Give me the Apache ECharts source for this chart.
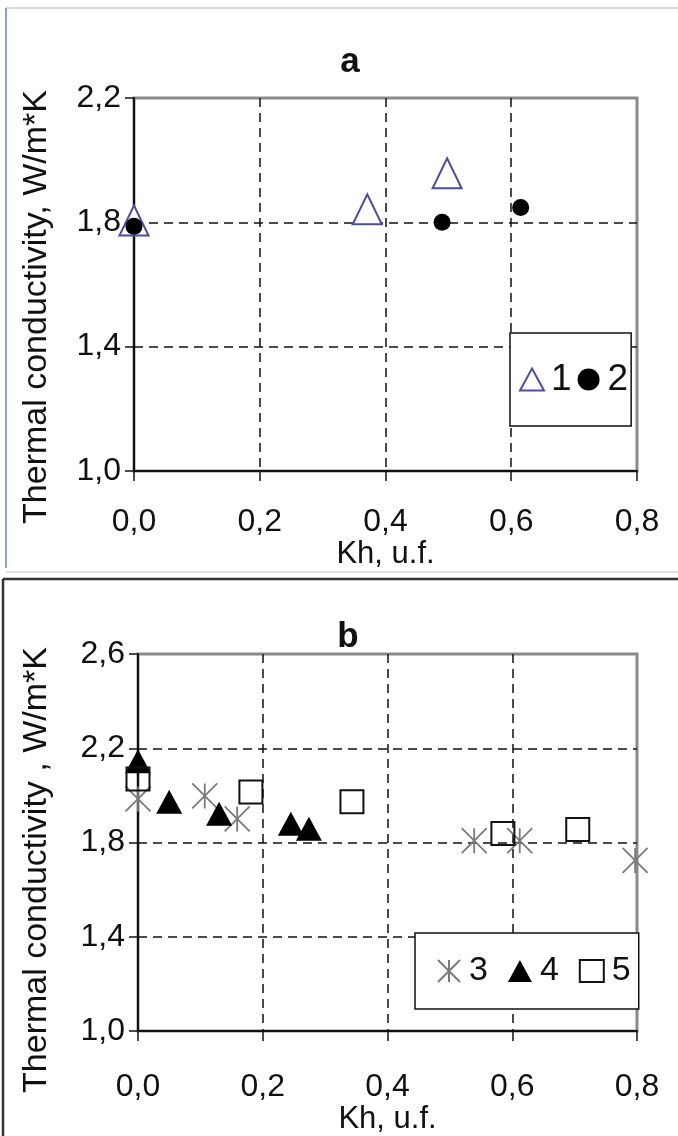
<!DOCTYPE html>
<html>
<head>
<meta charset="utf-8">
<script src="https://cdn.jsdelivr.net/npm/echarts@6/dist/echarts.min.js"></script>
<style>
  html, body { margin: 0; padding: 0; background: #fff; }
  #chart { width: 678px; height: 1136px; }
</style>
</head>
<body>
<div id="chart"></div>
<script>
// Panel a: thermal conductivity vs Kh
const series1X = [0.0, 0.371, 0.498];
const series1Y = [1.806, 1.842, 1.958];
const series2X = [0.0, 0.49, 0.615];
const series2Y = [1.787, 1.80, 1.848];

// Panel b
const series3X = [0.0, 0.107, 0.159, 0.539, 0.612, 0.797];
const series3Y = [1.985, 1.998, 1.90, 1.808, 1.808, 1.724];
const series4X = [0.0, 0.05, 0.13, 0.245, 0.274];
const series4Y = [2.145, 1.973, 1.922, 1.88, 1.859];
const series5X = [0.0, 0.181, 0.343, 0.585, 0.705];
const series5Y = [2.07, 2.015, 1.973, 1.838, 1.855];

const xTicks = [0.0, 0.2, 0.4, 0.6, 0.8];
const yTicksA = [1.0, 1.4, 1.8, 2.2];
const yTicksB = [1.0, 1.4, 1.8, 2.2, 2.6];

const panelTitles = ['a', 'b'];
const xTitle = 'Kh, u.f.';
const yTitles = ['Thermal conductivity, W/m*K', 'Thermal conductivity , W/m*K'];

const FONT = '"Liberation Sans", Arial, sans-serif';
const pairs = (xs, ys) => xs.map((x, i) => [x, ys[i]]);
const fmt = v => v.toFixed(1).replace('.', ',');
const asterisk = 'path://M10,0L10,20M0,0L20,20M0,20L20,0';

function xAxisFor(gridIndex, labelMargin, nameGap) {
  return {
    type: 'value', gridIndex,
    min: xTicks[0], max: xTicks[xTicks.length - 1], interval: 0.2,
    name: xTitle, nameLocation: 'middle', nameGap,
    nameTextStyle: { fontFamily: FONT, fontSize: 31, color: '#111' },
    axisLine: { show: true, onZero: false, lineStyle: { color: '#111', width: 2 } },
    axisTick: { show: true, inside: false, length: 10, lineStyle: { color: '#111', width: 1.5 } },
    axisLabel: { formatter: fmt, fontFamily: FONT, fontSize: 32, color: '#111', margin: labelMargin },
    splitLine: { show: true, showMinLine: false, showMaxLine: false,
      lineStyle: { color: '#111', type: [9, 6], width: 1.5 } }
  };
}

function yAxisFor(gridIndex, ticks) {
  return {
    type: 'value', gridIndex,
    min: ticks[0], max: ticks[ticks.length - 1], interval: 0.4,
    axisLine: { show: true, onZero: false, lineStyle: { color: '#111', width: 2 } },
    axisTick: { show: true, inside: false, length: 9, lineStyle: { color: '#111', width: 1.5 } },
    axisLabel: { formatter: fmt, fontFamily: FONT, fontSize: 32, color: '#111', margin: 13 },
    splitLine: { show: true, showMinLine: false, showMaxLine: false,
      lineStyle: { color: '#111', type: [9, 6], width: 1.5 } }
  };
}

const chart = echarts.init(document.getElementById('chart'), null, { renderer: 'canvas' });

chart.setOption({
  backgroundColor: '#fff',
  animation: false,
  title: [
    { text: panelTitles[0], left: 345, top: 57, textAlign: 'center', textVerticalAlign: 'middle',
      textStyle: { fontFamily: FONT, fontSize: 35, fontWeight: 'bold', color: '#111' } },
    { text: panelTitles[1], left: 343, top: 632, textAlign: 'center', textVerticalAlign: 'middle',
      textStyle: { fontFamily: FONT, fontSize: 35, fontWeight: 'bold', color: '#111' } }
  ],
  grid: [
    { left: 134, right: 41, top: 98, height: 373, show: true, borderColor: '#8a8a8a', borderWidth: 3, backgroundColor: '#fff' },
    { left: 138, right: 41, top: 654, height: 380, show: true, borderColor: '#8a8a8a', borderWidth: 3, backgroundColor: '#fff' }
  ],
  xAxis: [xAxisFor(0, 35, 65), xAxisFor(1, 40, 71)],
  yAxis: [yAxisFor(0, yTicksA), yAxisFor(1, yTicksB)],
  legend: [
    {
      data: ['1', '2'], left: 510, top: 333, orient: 'horizontal',
      padding: [28, 3, 28, 9], itemGap: 6, itemWidth: 24, itemHeight: 22,
      borderColor: '#111', borderWidth: 1.5, backgroundColor: '#fff',
      textStyle: { fontFamily: FONT, fontSize: 37, color: '#111', padding: [0, 0, 0, 2] }
    },
    {
      data: ['3', '4', '5'], left: 415, top: 933, orient: 'horizontal',
      padding: [21, 8, 21, 22], itemGap: 20, itemWidth: 24, itemHeight: 22,
      borderColor: '#111', borderWidth: 1.5, backgroundColor: '#fff',
      textStyle: { fontFamily: FONT, fontSize: 34, color: '#111', padding: [0, 0, 0, 3] }
    }
  ],
  series: [
    { name: '1', type: 'scatter', xAxisIndex: 0, yAxisIndex: 0, data: pairs(series1X, series1Y),
      symbol: 'triangle', symbolSize: [29, 30], z: 3,
      itemStyle: { color: '#fff', borderColor: '#4d4d9e', borderWidth: 2, opacity: 1 } },
    { name: '2', type: 'scatter', xAxisIndex: 0, yAxisIndex: 0, data: pairs(series2X, series2Y),
      symbol: 'circle', symbolSize: 17, z: 4,
      itemStyle: { color: '#000', opacity: 1 } },
    { name: '3', type: 'scatter', xAxisIndex: 1, yAxisIndex: 1, data: pairs(series3X, series3Y),
      symbol: asterisk, symbolSize: 25, z: 3,
      itemStyle: { color: 'transparent', borderColor: '#7a7a7a', borderWidth: 1.8, opacity: 1 } },
    { name: '4', type: 'scatter', xAxisIndex: 1, yAxisIndex: 1, data: pairs(series4X, series4Y),
      symbol: 'triangle', symbolSize: [26, 24], z: 4,
      itemStyle: { color: '#000', opacity: 1 } },
    { name: '5', type: 'scatter', xAxisIndex: 1, yAxisIndex: 1, data: pairs(series5X, series5Y),
      symbol: 'rect', symbolSize: 23, z: 5,
      itemStyle: { color: 'transparent', borderColor: '#111', borderWidth: 2, opacity: 1 } }
  ],
  graphic: [
    // panel a frame
    { type: 'line', shape: { x1: 6, y1: 8, x2: 678, y2: 8 }, style: { stroke: '#d6d6d6', lineWidth: 2 } },
    { type: 'line', shape: { x1: 6, y1: 8, x2: 6, y2: 568 }, style: { stroke: '#8d9ed6', lineWidth: 2 } },
    { type: 'line', shape: { x1: 6, y1: 572, x2: 678, y2: 572 }, style: { stroke: '#e2e2e2', lineWidth: 2 } },
    // panel b frame
    { type: 'line', shape: { x1: 3, y1: 579, x2: 678, y2: 579 }, style: { stroke: '#333', lineWidth: 2.5 } },
    { type: 'line', shape: { x1: 3, y1: 579, x2: 3, y2: 1136 }, style: { stroke: '#333', lineWidth: 2.5 } },
    // rotated y-axis titles
    { type: 'text', x: 37, y: 307, rotation: Math.PI / 2,
      style: { text: yTitles[0], font: '34px ' + FONT, fill: '#111', textAlign: 'center', textVerticalAlign: 'middle' } },
    { type: 'text', x: 37, y: 870, rotation: Math.PI / 2,
      style: { text: yTitles[1], font: '34px ' + FONT, fill: '#111', textAlign: 'center', textVerticalAlign: 'middle' } }
  ]
});
</script>
</body>
</html>
